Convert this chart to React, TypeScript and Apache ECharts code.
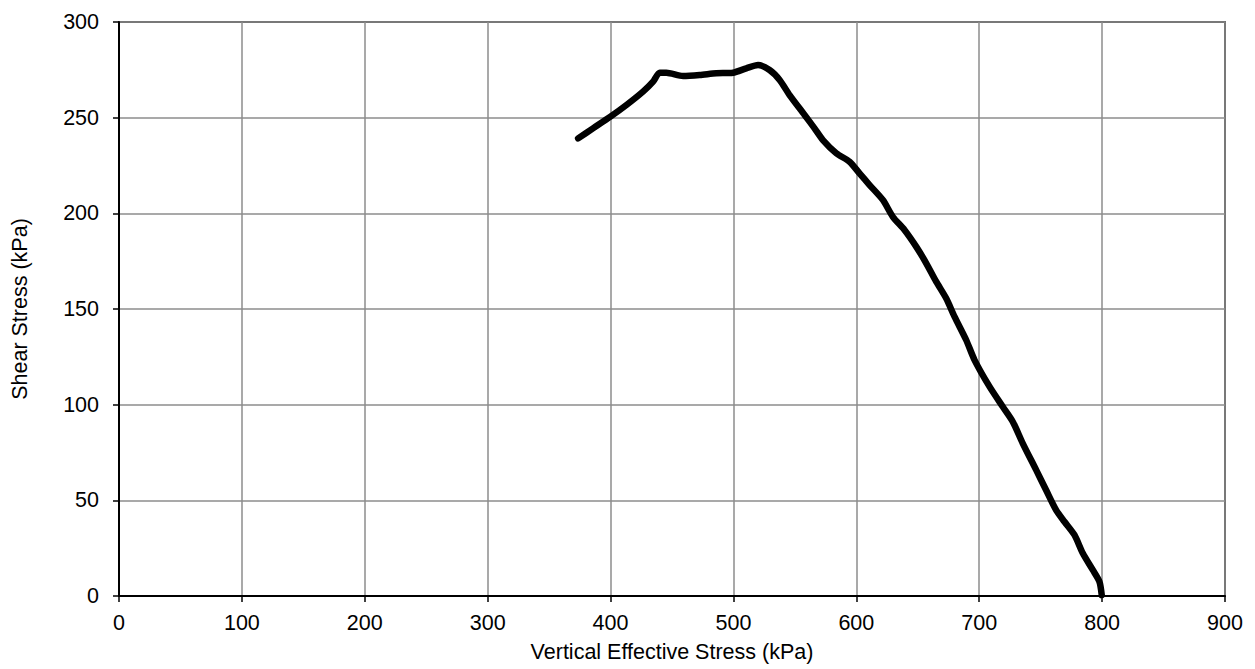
import React, { useEffect, useRef } from "react";
import * as echarts from "echarts";

const stressX: number[] = [
  373.6, 385.7, 399.9, 412.9, 426.4, 434.6, 440, 445.4, 459, 472.5, 486, 499.6,
  510.5, 520, 529.4, 537.6, 545.7, 557.9, 566, 572.8, 583.7, 594.5, 602.6,
  610.8, 621.6, 629.7, 639.2, 648.7, 656.9, 665, 673.1, 679.9, 689.4, 696.2,
  708.4, 719.2, 727.3, 735.4, 746.3, 754.4, 762.6, 769.4, 777.5, 784.3, 792.4,
  797.8, 799.7,
];
const shearY: number[] = [
  239.2, 244.4, 250.5, 256.6, 263.6, 268.8, 273.5, 273.5, 271.8, 272.3, 273.2,
  273.5, 275.8, 277.5, 274.9, 269.7, 261.8, 251.4, 244.4, 238.3, 231.4, 227,
  220.9, 214.8, 207, 198.2, 191.3, 182.6, 173.9, 164.3, 155.6, 146, 133.8,
  123.3, 109.4, 98.9, 91.1, 79.8, 65.9, 55.4, 44.9, 38.8, 31.9, 22.3, 13.6,
  7.5, 0.5,
];

const xAxisName = "Vertical Effective Stress (kPa)";
const yAxisName = "Shear Stress (kPa)";

export default function App() {
  const ref = useRef<HTMLDivElement>(null);
  useEffect(() => {
    if (!ref.current) return;
    const chart = echarts.init(ref.current, undefined, { renderer: "svg" });
    const font = "Liberation Sans";
    const txt = { color: "#000", fontSize: 21.5, fontFamily: font };
    chart.setOption({
      animation: false,
      backgroundColor: "#ffffff",
      textStyle: { fontFamily: font, fontSize: 21.5 },
      grid: {
        left: 119, right: 30, top: 22, bottom: 73,
        containLabel: false, outerBoundsMode: "none",
        show: true, borderColor: "#000", borderWidth: 1.5,
      },
      xAxis: {
        type: "value",
        min: 0,
        max: 900,
        interval: 100,
        name: xAxisName,
        nameLocation: "middle",
        nameGap: 45,
        nameTextStyle: txt,
        axisLine: { show: true, onZero: false, lineStyle: { color: "#000", width: 2 } },
        axisTick: { show: true, length: 6, lineStyle: { color: "#000", width: 1.5 } },
        axisLabel: { ...txt, margin: 16 },
        splitLine: { show: true, lineStyle: { color: "#8c8c8c", width: 1.5 } },
      },
      yAxis: {
        type: "value",
        min: 0,
        max: 300,
        interval: 50,
        name: yAxisName,
        nameLocation: "middle",
        nameGap: 88,
        nameTextStyle: txt,
        axisLine: { show: true, onZero: false, lineStyle: { color: "#000", width: 2 } },
        axisTick: { show: true, length: 6, lineStyle: { color: "#000", width: 1.5 } },
        axisLabel: { ...txt, margin: 20 },
        splitLine: { show: true, lineStyle: { color: "#8c8c8c", width: 1.5 } },
      },
      series: [
        {
          type: "line",
          data: stressX.map((x, i) => [x, shearY[i]]),
          showSymbol: false,
          smooth: 0.25,
          lineStyle: { color: "#000", width: 6.5, cap: "round", join: "round" },
        },
      ],
    });
    return () => chart.dispose();
  }, []);
  return (
    <div
      ref={ref}
      style={{ position: "absolute", left: 0, top: 0, width: 1255, height: 669 }}
    />
  );
}
